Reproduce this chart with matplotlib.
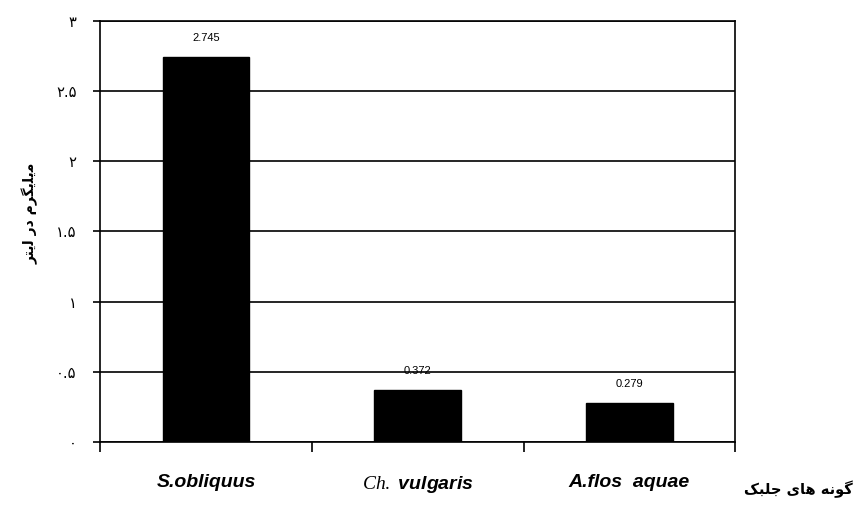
import matplotlib
matplotlib.use("Agg")
import matplotlib.pyplot as plt
import numpy as np

plt.rcParams['mathtext.fontset'] = 'custom'
plt.rcParams['mathtext.it'] = 'Liberation Serif:italic'
plt.rcParams['mathtext.rm'] = 'Liberation Serif'

# data
species = ['S.obliquus', r'$\mathit{Ch.}$ vulgaris', 'A.flos  aquae']
values = [2.745, 0.372, 0.279]
value_labels = ['2.745', '0.372', '0.279']
y_ticks = [0, 0.5, 1, 1.5, 2, 2.5, 3]
y_tick_labels = ['\u06f0', '\u06f0.\u06f5', '\u06f1', '\u06f1.\u06f5',
                 '\u06f2', '\u06f2.\u06f5', '\u06f3']

# Persian labels, pre-shaped (presentation forms, visual order)
ylabel_fa = '\uFEAE\uFE98\uFBFE\uFEDF \uFEAD\uFEA9 \uFEE1\uFEAE\uFB95\uFBFE\uFEE0\uFBFE\uFEE3'
xlabel_fa = '\uFB8F\uFE92\uFEE0\uFE9F \uFBFC\uFE8E\uFEEB \uFEEA\uFEE7\uFEEE\uFB94'

fig = plt.figure(figsize=(8.63, 5.26), dpi=100)
ax = fig.add_axes([0.116, 0.16, 0.736, 0.80])

x = np.arange(len(species))
ax.bar(x, values, width=0.41, color='black', edgecolor='black', zorder=3)

for xi, v, lab in zip(x, values, value_labels):
    ax.annotate(lab, (xi, v), xytext=(0, 10), textcoords='offset points',
                ha='center', va='bottom', fontsize=8, family='Liberation Sans')

ax.set_xlim(-0.5, 2.5)
ax.set_ylim(0, 3)
ax.set_yticks(y_ticks)
ax.set_yticklabels(y_tick_labels, family='DejaVu Sans', fontsize=10.5)
ax.yaxis.grid(True, color='black', linewidth=1.2, zorder=0)
ax.tick_params(axis='y', length=5, width=1.2, pad=12)

ax.set_xticks(x)
ax.set_xticklabels(species, family='Liberation Sans', fontsize=14,
                   fontweight='bold', style='italic')
ax.set_xticks([-0.5, 0.5, 1.5, 2.5], minor=True)
ax.tick_params(axis='x', which='major', length=0, pad=23)
ax.tick_params(axis='x', which='minor', length=7, width=1.2)

for s in ax.spines.values():
    s.set_linewidth(1.2)
    s.set_color('black')

fig.text(0.035, 0.595, ylabel_fa, rotation=90, ha='center', va='center',
         fontsize=10, fontweight='bold', family='DejaVu Sans')
fig.text(0.925, 0.07, xlabel_fa, ha='center', va='center',
         fontsize=10.5, fontweight='bold', family='DejaVu Sans')

fig.savefig('out.png', dpi=100)
